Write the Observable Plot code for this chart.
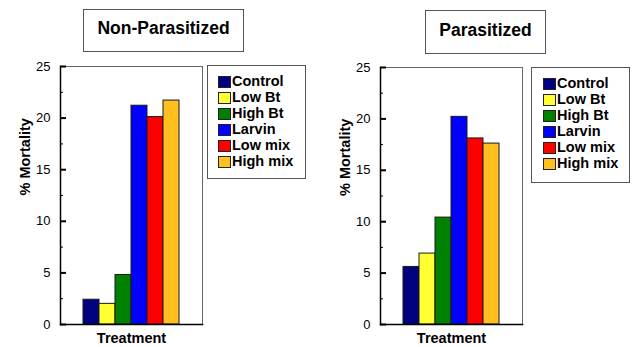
<!DOCTYPE html>
<html>
<head>
<meta charset="utf-8">
<script src="https://cdn.jsdelivr.net/npm/d3@7"></script>
<script src="https://cdn.jsdelivr.net/npm/@observablehq/plot@0.6"></script>
<style>
  html, body { margin: 0; padding: 0; background: #fff; }
  #root { position: relative; width: 633px; height: 347px; background: #fff; overflow: hidden;
          font-family: "Liberation Sans", Arial, sans-serif; color: #000; }
  .panel { position: absolute; top: 0; }
  .titlebox { position: absolute; box-sizing: border-box; border: 1px solid #555; background: #fff;
              display: flex; align-items: center; justify-content: center; padding-bottom: 4px;
              font-weight: bold; font-size: 17.5px; }
  .legend { position: absolute; box-sizing: border-box; border: 1px solid #555; background: #fff; }
  .row { display: flex; align-items: center; height: 16px; font-weight: bold; font-size: 14.5px; white-space: nowrap; }
  .sw { box-sizing: border-box; width: 13px; height: 12px; border: 1px solid #222; margin-right: 1px; margin-top: 2px; }
</style>
</head>
<body>
<div id="root"></div>
<script>
// ---- data ----
const categories = ["Control", "Low Bt", "High Bt", "Larvin", "Low mix", "High mix"];
const colors = ["#000080", "#ffff33", "#008000", "#0000ff", "#ff0000", "#ffbf1f"];
const nonParasitized = [2.4, 2.0, 4.8, 21.2, 20.1, 21.7];
const parasitized = [5.6, 6.9, 10.4, 20.2, 18.1, 17.6];
const panelTitles = ["Non-Parasitized", "Parasitized"];
const yTicks = [0, 5, 10, 15, 20, 25];
const yMinorTicks = [2.5, 7.5, 12.5, 17.5, 22.5];
const xLabel = "Treatment";
const yLabel = "% Mortality";

const root = document.getElementById("root");

function panel(values, marginTop) {
  const data = categories.map((c, i) => ({treatment: c, value: values[i]}));
  return Plot.plot({
    width: 212, height: 347,
    marginLeft: 60, marginRight: 10, marginTop, marginBottom: 23,
    style: {fontFamily: '"Liberation Sans", Arial, sans-serif', background: "transparent", color: "#000", overflow: "visible"},
    x: {domain: categories, paddingInner: 0, paddingOuter: 1.35, axis: null},
    y: {domain: [0, 25], axis: null, label: null},
    color: {domain: categories, range: colors},
    marks: [
      Plot.barY(data, {x: "treatment", y: "value", fill: "treatment", stroke: "#1a1a1a", strokeWidth: 1}),
      Plot.frame({stroke: "#666", strokeWidth: 1}),
      Plot.frame({anchor: "left", stroke: "#000", strokeWidth: 1.5}),
      Plot.frame({anchor: "bottom", stroke: "#000", strokeWidth: 1.5}),
      Plot.axisY(yTicks, {tickSize: 0, tickPadding: 10, fontSize: 13, label: null}),
      Plot.axisY(yTicks, {tickSize: -6, fill: "none", strokeWidth: 2, label: null}),
      Plot.axisY(yMinorTicks, {tickSize: -3, fill: "none", strokeWidth: 1, label: null}),
      Plot.text([xLabel], {frameAnchor: "bottom", dy: 18, fontWeight: "bold", fontSize: 14.5, text: d => d}),
      Plot.text([yLabel], {frameAnchor: "left", dx: -35, rotate: -90, fontWeight: "bold", fontSize: 14.5, text: d => d})
    ]
  });
}

function legend(left, top, width, height, padTop, padLeft) {
  const div = document.createElement("div");
  div.className = "legend";
  Object.assign(div.style, {left: left + "px", top: top + "px", width: width + "px", height: height + "px",
    paddingTop: padTop + "px", paddingLeft: padLeft + "px"});
  categories.forEach((c, i) => {
    const row = document.createElement("div");
    row.className = "row";
    const sw = document.createElement("span");
    sw.className = "sw";
    sw.style.background = colors[i];
    const t = document.createElement("span");
    t.textContent = c;
    row.appendChild(sw);
    row.appendChild(t);
    div.appendChild(row);
  });
  return div;
}

function titleBox(text, left, top, width, height) {
  const div = document.createElement("div");
  div.className = "titlebox";
  Object.assign(div.style, {left: left + "px", top: top + "px", width: width + "px", height: height + "px"});
  div.textContent = text;
  return div;
}

const p1 = document.createElement("div");
p1.className = "panel"; p1.style.left = "0px";
p1.appendChild(panel(nonParasitized, 66));
root.appendChild(p1);

const p2 = document.createElement("div");
p2.className = "panel"; p2.style.left = "320px";
p2.appendChild(panel(parasitized, 67));
root.appendChild(p2);

root.appendChild(titleBox(panelTitles[0], 83, 9, 161, 43));
root.appendChild(titleBox(panelTitles[1], 425, 10, 121, 44));
root.appendChild(legend(207, 65, 99, 114, 7, 10));
root.appendChild(legend(531, 67, 99, 116, 7, 11));
</script>
</body>
</html>
